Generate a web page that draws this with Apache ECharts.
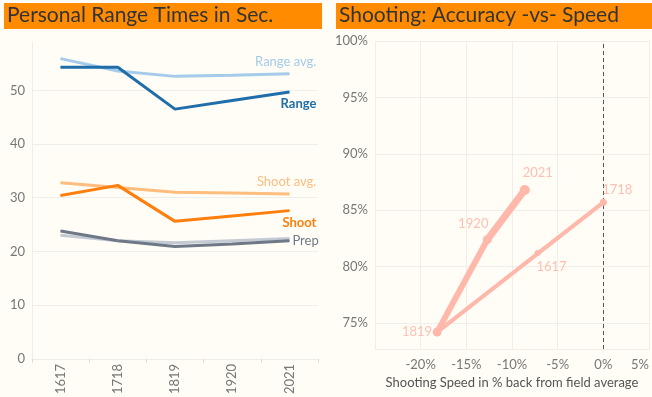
<!DOCTYPE html>
<html>
<head>
<meta charset="utf-8">
<script src="https://cdn.jsdelivr.net/npm/echarts@6/dist/echarts.min.js"></script>
<style>
html,body{margin:0;padding:0;background:#fffdf6;}
#c{width:652px;height:397px;}
</style>
</head>
<body>
<div id="c"></div>
<script>
// ---- Data ----
const seasons = ['1617', '1718', '1819', '1920', '2021'];
const rangeAvg = [55.9, 53.6, 52.6, 52.8, 53.1];
const range = [54.3, 54.3, 46.5, 48.1, 49.7];
const shootAvg = [32.8, 31.9, 31.0, 30.9, 30.7];
const shoot = [30.4, 32.3, 25.6, 26.6, 27.6];
const prepAvg = [23.0, 22.0, 21.6, 22.0, 22.4];
const prep = [23.8, 22.0, 20.9, 21.4, 22.0];

const speedPct = [-7.2, 0.0, -18.2, -12.7, -8.6];      // x: % back from field average
const accuracyPct = [81.2, 85.7, 74.2, 82.4, 86.8];    // y: shooting accuracy %
const yTicksLeft = [0, 10, 20, 30, 40, 50];

// ---- Styles ----
const FONT = 'Lato, "Noto Sans", sans-serif';
const AX = '#777';
const GRID = '#efeeea';
const SALMON = '#ffb8aa';
const SALMON_T = '#ffc0b3';

const lineDefs = [
  {name: 'Range avg.', data: rangeAvg, color: '#a4cbe9', w: 3, lab: {align: 'right', dx: 27, dy: -12, bold: false}},
  {name: 'Range', data: range, color: '#1f6eaa', w: 3, lab: {align: 'right', dx: 27, dy: 12, bold: true}},
  {name: 'Shoot avg.', data: shootAvg, color: '#ffbd7e', w: 3, lab: {align: 'right', dx: 27, dy: -12, bold: false}},
  {name: 'Shoot', data: shoot, color: '#ff7f0e', w: 3, lab: {align: 'right', dx: 27, dy: 12, bold: true}},
  {name: 'Prep avg.', data: prepAvg, color: '#c3cad4', w: 3, lab: null},
  {name: 'Prep', data: prep, color: '#6e7886', w: 3, lab: {align: 'left', dx: 3, dy: 0, bold: false, text: 'Prep'}},
];

const leftSeries = lineDefs.map(d => ({
  type: 'line', name: d.name, xAxisIndex: 0, yAxisIndex: 0,
  symbol: 'circle', symbolSize: 1, showSymbol: true,
  silent: true, animation: false,
  lineStyle: {color: d.color, width: d.w},
  itemStyle: {color: d.color},
  data: d.data.map((v, i) => {
    if (i === d.data.length - 1 && d.lab) {
      return {value: v, label: {
        show: true, position: 'inside', align: d.lab.align, verticalAlign: 'middle',
        offset: [d.lab.dx, d.lab.dy], formatter: d.lab.text || d.name,
        color: d.color, fontSize: 13, fontFamily: FONT, fontWeight: d.lab.bold ? 'bold' : 'normal'
      }};
    }
    return v;
  })
}));

// scatter label placements
const labelPlace = {
  '1617': {pos: 'inside', offset: [14, 14], align: 'center'},
  '1718': {pos: 'inside', offset: [14, -13], align: 'center'},
  '1819': {pos: 'inside', offset: [-5, 0], align: 'right'},
  '1920': {pos: 'inside', offset: [-14, -16], align: 'center'},
  '2021': {pos: 'inside', offset: [13, -17], align: 'center'}
};
const segWidths = [3, 4, 6, 7];
const ptSizes = [6, 7, 9, 9, 10];

const pts = seasons.map((s, i) => [speedPct[i], accuracyPct[i]]);
const rightSeries = [];
for (let i = 0; i < pts.length - 1; i++) {
  rightSeries.push({
    type: 'line', xAxisIndex: 1, yAxisIndex: 1, silent: true, animation: false,
    symbol: 'none', lineStyle: {color: SALMON, width: segWidths[i], cap: 'round'},
    data: [pts[i], pts[i + 1]]
  });
}
rightSeries.push({
  type: 'scatter', xAxisIndex: 1, yAxisIndex: 1, silent: true, animation: false,
  itemStyle: {color: SALMON, opacity: 1},
  data: pts.map((p, i) => ({
    value: p, symbolSize: ptSizes[i],
    label: {
      show: true, formatter: seasons[i], position: labelPlace[seasons[i]].pos,
      offset: labelPlace[seasons[i]].offset, align: labelPlace[seasons[i]].align,
      verticalAlign: 'middle', color: SALMON_T, fontSize: 13, fontFamily: FONT
    }
  })),
  markLine: {
    silent: true, symbol: 'none', animation: false,
    lineStyle: {color: '#555', type: [4, 3], width: 1},
    label: {show: false},
    data: [{xAxis: 0}]
  },
  z: 5
});

const chart = echarts.init(document.getElementById('c'), null, {renderer: 'canvas'});
chart.setOption({
  backgroundColor: '#fffdf6',
  animation: false,
  textStyle: {fontFamily: FONT},
  graphic: [
    {type: 'rect', left: 4, top: 3, shape: {width: 318, height: 26}, style: {fill: '#ff8c00'}},
    {type: 'text', left: 7, top: 5, style: {text: 'Personal Range Times in Sec.', fill: '#333', font: '21px ' + FONT}},
    {type: 'rect', left: 336, top: 3, shape: {width: 316, height: 26}, style: {fill: '#ff8c00'}},
    {type: 'text', left: 339, top: 5, style: {text: 'Shooting: Accuracy -vs- Speed', fill: '#333', font: '21px ' + FONT}}
  ],
  grid: [
    {left: 32, right: 334, top: 42, bottom: 37},
    {left: 375, right: 1, top: 41, bottom: 48}
  ],
  xAxis: [
    {
      type: 'category', gridIndex: 0, data: seasons, boundaryGap: true,
      axisLine: {show: true, lineStyle: {color: GRID}},
      axisTick: {show: true, length: 4, lineStyle: {color: '#dcdcdc'}},
      axisLabel: {rotate: 90, color: AX, fontSize: 13, fontFamily: FONT, margin: 5},
      splitLine: {show: false}
    },
    {
      type: 'value', gridIndex: 1, min: -25, max: 5, interval: 5,
      axisLine: {show: true, lineStyle: {color: GRID}},
      axisTick: {show: false},
      axisLabel: {color: AX, fontSize: 13, fontFamily: FONT, margin: 9, showMinLabel: false,
                  alignMaxLabel: 'right', formatter: v => v + '%'},
      splitLine: {show: true, lineStyle: {color: GRID}},
      name: 'Shooting Speed in % back from field average', nameLocation: 'middle', nameGap: 26,
      nameTextStyle: {color: '#555', fontSize: 13, fontFamily: FONT}
    }
  ],
  yAxis: [
    {
      type: 'value', gridIndex: 0, min: 0, max: 59, interval: 10,
      axisLine: {show: true, lineStyle: {color: GRID}},
      axisTick: {show: false},
      axisLabel: {color: AX, fontSize: 13, fontFamily: FONT, margin: 7, showMaxLabel: false,
                  formatter: v => (yTicksLeft.indexOf(v) >= 0 ? String(v) : '')},
      splitLine: {show: true, showMaxLine: false, lineStyle: {color: GRID}}
    },
    {
      type: 'value', gridIndex: 1, min: 72.7, max: 100, minInterval: 5, maxInterval: 5,
      axisLine: {show: true, lineStyle: {color: GRID}},
      axisTick: {show: false},
      axisLabel: {color: AX, fontSize: 13, fontFamily: FONT, margin: 7, showMinLabel: false,
                  formatter: v => (v % 5 === 0 ? v + '%' : '')},
      splitLine: {show: true, lineStyle: {color: GRID}}
    }
  ],
  series: leftSeries.concat(rightSeries)
});
</script>
</body>
</html>
